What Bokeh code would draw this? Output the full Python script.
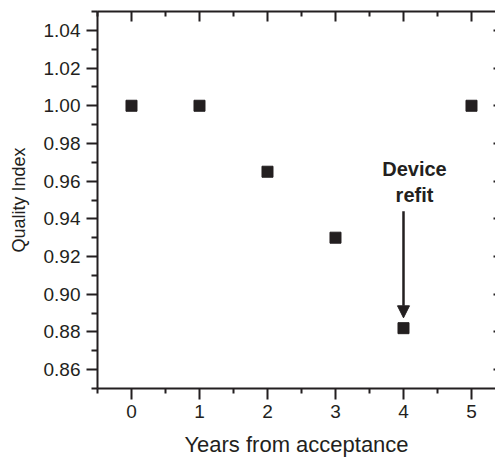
from bokeh.plotting import figure
from bokeh.models import (FixedTicker, LinearAxis, Arrow, NormalHead, Label, Range1d,
                          NumeralTickFormatter, CustomJSTickFormatter)
from bokeh.embed import file_html
from bokeh.resources import INLINE

# data
years = [0, 1, 2, 3, 4, 5]
quality = [1.00, 1.00, 0.965, 0.930, 0.882, 1.00]

x_major = [0, 1, 2, 3, 4, 5]
x_minor = [-0.5, 0.5, 1.5, 2.5, 3.5, 4.5, 5.5]
y_major = [0.86, 0.88, 0.90, 0.92, 0.94, 0.96, 0.98, 1.00, 1.02, 1.04]
y_minor = [0.85, 0.87, 0.89, 0.91, 0.93, 0.95, 0.97, 0.99, 1.01, 1.03, 1.05]

x_title = "Years from acceptance"
y_title = "Quality Index"
note_lines = ["Device", "refit"]
note_x = 4
note_y = [0.9666, 0.9528]
arrow_x = 4
arrow_y = [0.944, 0.8875]

INK = "#231f20"
FONT = "Liberation Sans"

p = figure(width=495, height=462, output_backend="svg", toolbar_location=None,
           x_range=Range1d(-0.5, 5.353), y_range=Range1d(0.85, 1.05),
           min_border_left=97, min_border_right=0, min_border_top=11, min_border_bottom=74)
p.outline_line_color = None
p.grid.visible = False
p.background_fill_color = "white"

def style_axis(ax, major, minor):
    ax.ticker = FixedTicker(ticks=major, minor_ticks=minor)
    ax.axis_line_color = INK
    ax.axis_line_width = 2
    ax.major_tick_line_color = INK
    ax.major_tick_line_width = 2
    ax.minor_tick_line_color = INK
    ax.minor_tick_line_width = 2
    ax.major_label_text_font = FONT
    ax.major_label_text_color = INK
    ax.axis_label_text_font = FONT
    ax.axis_label_text_color = INK
    ax.axis_label_text_font_style = "normal"

xa = p.xaxis[0]
style_axis(xa, x_major, x_minor)
xa.axis_label = x_title
xa.major_tick_out = 11
xa.major_tick_in = 0
xa.minor_tick_out = 5
xa.minor_tick_in = 0
xa.major_label_text_font_size = "19px"
xa.axis_label_text_font_size = "22px"
xa.major_label_standoff = 5
xa.axis_label_standoff = 11

ya = p.yaxis[0]
style_axis(ya, y_major, y_minor)
ya.formatter = NumeralTickFormatter(format="0.00")
ya.axis_label = y_title
ya.major_tick_out = 11
ya.major_tick_in = 0
ya.minor_tick_out = 6
ya.minor_tick_in = 0
ya.major_label_text_font_size = "19px"
ya.axis_label_text_font_size = "18px"
ya.major_label_standoff = 6
ya.axis_label_standoff = 12

top = LinearAxis(formatter=CustomJSTickFormatter(code="return ''"))
style_axis(top, x_major, x_minor)
top.major_tick_out = 0
top.major_tick_in = 10
top.minor_tick_out = 0
top.minor_tick_in = 5
top.major_label_standoff = 0
p.add_layout(top, "above")

right = LinearAxis(formatter=CustomJSTickFormatter(code="return ''"))
style_axis(right, y_major, [])
right.axis_line_alpha = 0
right.major_tick_out = 0
right.major_tick_in = 2
right.minor_tick_out = 0
right.minor_tick_in = 0
right.major_label_standoff = 0
p.add_layout(right, "right")

p.scatter(years, quality, marker="square", size=11, color=INK)

p.add_layout(Arrow(end=NormalHead(size=12, fill_color=INK, line_color=INK, line_width=1),
                   x_start=arrow_x, y_start=arrow_y[0], x_end=arrow_x, y_end=arrow_y[1],
                   line_color=INK, line_width=2.5))

for t, yy in zip(note_lines, note_y):
    p.add_layout(Label(x=note_x, y=yy, x_offset=11, text=t, text_font=FONT,
                       text_font_size="20px", text_font_style="bold", text_color=INK,
                       text_align="center", text_baseline="alphabetic"))

open("out.html", "w").write(file_html(p, INLINE))
